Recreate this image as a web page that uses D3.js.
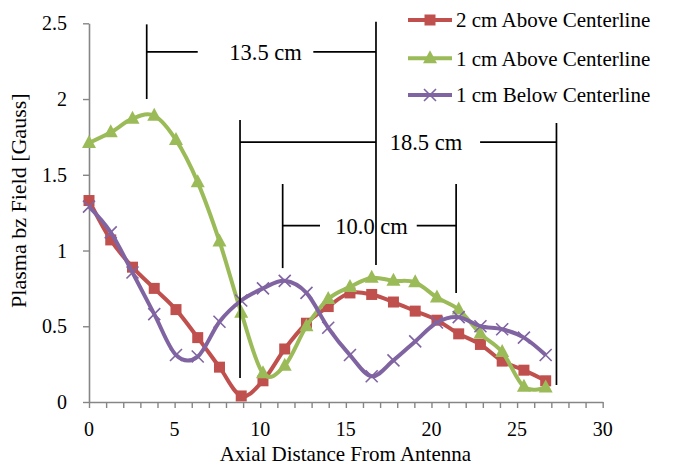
<!DOCTYPE html>
<html>
<head>
<meta charset="utf-8">
<script src="https://cdn.jsdelivr.net/npm/d3@7"></script>
<style>
  html, body { margin: 0; padding: 0; background: #fff; }
  svg { display: block; }
  text { font-family: "Liberation Serif", "Times New Roman", serif; fill: #000; }
</style>
</head>
<body>
<svg id="chart" width="675" height="468"></svg>
<script>
// Probe positions along the axis (cm)
const positions = [0, 1.27, 2.54, 3.81, 5.08, 6.35, 7.62, 8.89, 10.16, 11.43, 12.7,
  13.97, 15.24, 16.51, 17.78, 19.05, 20.32, 21.59, 22.86, 24.13, 25.4, 26.67];

// Measured field (Gauss)
const above2cm = [1.33, 1.07, 0.89, 0.75, 0.61, 0.425, 0.23, 0.04, 0.14, 0.35, 0.52,
  0.63, 0.72, 0.71, 0.66, 0.60, 0.54, 0.45, 0.38, 0.27, 0.21, 0.14];
const above1cm = [1.71, 1.78, 1.87, 1.89, 1.73, 1.45, 1.06, 0.59, 0.19, 0.24, 0.50,
  0.68, 0.76, 0.82, 0.80, 0.79, 0.69, 0.61, 0.45, 0.33, 0.10, 0.095];
const below1cm = [1.29, 1.12, 0.855, 0.58, 0.31, 0.30, 0.53, 0.67, 0.75, 0.80, 0.72,
  0.49, 0.31, 0.17, 0.275, 0.40, 0.525, 0.56, 0.50, 0.48, 0.425, 0.31];

const seriesNames = ["2 cm Above Centerline", "1 cm Above Centerline", "1 cm Below Centerline"];

const xTicks = [0, 5, 10, 15, 20, 25, 30];
const yTicks = [0, 0.5, 1, 1.5, 2, 2.5];

// Spacing brackets: two vertical markers, a horizontal arm split by the label
const bracketLabels = ["13.5 cm", "18.5 cm", "10.0 cm"];
const bracketLeftX = [3.37, 8.82, 11.31];
const bracketRightX = [16.76, 27.3, 21.44];
const bracketArmY = [2.312, 1.716, 1.164];
const bracketLeftSpan = [[2.0, 2.493], [0.158, 1.861], [0.884, 1.439]];
const bracketRightSpan = [[0.904, 2.51], [0.112, 1.842], [0.72, 1.439]];
const bracketArmBreak = [[6.35, 13.10], [16.76, 22.84], [13.49, 19.14]];
const bracketLabelX = [10.31, 19.68, 16.5];

const svg = d3.select("#chart");
const x = d3.scaleLinear().domain([0, 30]).range([89, 602.7]);
const y = d3.scaleLinear().domain([0, 2.5]).range([402, 23.3]);

const colors = ["#C0504D", "#9BBB59", "#8064A2"];
const axisColor = "#868686";

// Axes (lines and tick marks from d3.axis, labels set in serif below)
const yAxis = svg.append("g")
  .attr("transform", `translate(${x(0)},0)`)
  .call(d3.axisLeft(y).tickValues(yTicks).tickSize(6).tickSizeOuter(0).tickFormat(""));
const xAxis = svg.append("g")
  .attr("transform", `translate(0,${y(0)})`)
  .call(d3.axisBottom(x).tickValues(d3.range(0, 31, 1)).tickSize(6).tickSizeOuter(0)
    .tickFormat(""));

[yAxis, xAxis].forEach(g => {
  g.selectAll("path.domain").attr("stroke", axisColor).attr("stroke-width", 1.6);
  g.selectAll(".tick line").attr("stroke", axisColor).attr("stroke-width", 1.4);
  g.selectAll(".tick text").remove();
});

const fmt = d3.format("");
svg.append("g").selectAll("text").data(yTicks).join("text")
  .attr("x", x(0) - 22)
  .attr("y", d => y(d))
  .attr("dy", "0.35em")
  .attr("text-anchor", "end")
  .style("font-size", "20px")
  .text(d => fmt(d));
svg.append("g").selectAll("text").data(xTicks).join("text")
  .attr("x", d => x(d))
  .attr("y", y(0) + 34)
  .attr("text-anchor", "middle")
  .style("font-size", "20px")
  .text(d => fmt(d));

// Axis titles
svg.append("text")
  .attr("x", (x(0) + x(30)) / 2 - 0.5)
  .attr("y", 461)
  .attr("text-anchor", "middle")
  .style("font-size", "21px")
  .text("Axial Distance From Antenna");
svg.append("text")
  .attr("transform", `translate(26,${(y(0) + y(2.5)) / 2 - 12}) rotate(-90)`)
  .attr("text-anchor", "middle")
  .style("font-size", "22px")
  .text("Plasma bz Field [Gauss]");

// Marker shapes
function drawMarker(g, kind, color) {
  if (kind === 0) {
    g.append("rect").attr("x", -5.5).attr("y", -5.5).attr("width", 11).attr("height", 11)
      .attr("fill", color);
  } else if (kind === 1) {
    g.append("path").attr("d", "M0,-8L7,5L-7,5Z").attr("fill", color);
  } else {
    g.append("path").attr("d", "M-6,-6L6,6M-6,6L6,-6")
      .attr("stroke", color).attr("stroke-width", 1.6).attr("fill", "none");
  }
}

const line = d3.line()
  .x(d => x(d[0]))
  .y(d => y(d[1]))
  .curve(d3.curveCardinal.tension(0));

const allSeries = [above2cm, above1cm, below1cm];
allSeries.forEach((vals, i) => {
  const pts = positions.map((p, k) => [p, vals[k]]);
  svg.append("path")
    .attr("d", line(pts))
    .attr("fill", "none")
    .attr("stroke", colors[i])
    .attr("stroke-width", 4)
    .attr("stroke-linejoin", "round");
  const mg = svg.append("g");
  pts.forEach(pt => {
    const g = mg.append("g").attr("transform", `translate(${x(pt[0])},${y(pt[1])})`);
    drawMarker(g, i, colors[i]);
  });
});

// Brackets
bracketLabels.forEach((lab, i) => {
  const g = svg.append("g").attr("stroke", "#000").attr("stroke-width", 1.7);
  g.append("line")
    .attr("x1", x(bracketLeftX[i])).attr("x2", x(bracketLeftX[i]))
    .attr("y1", y(bracketLeftSpan[i][0])).attr("y2", y(bracketLeftSpan[i][1]));
  g.append("line")
    .attr("x1", x(bracketRightX[i])).attr("x2", x(bracketRightX[i]))
    .attr("y1", y(bracketRightSpan[i][0])).attr("y2", y(bracketRightSpan[i][1]));
  g.append("line")
    .attr("x1", x(bracketLeftX[i])).attr("x2", x(bracketArmBreak[i][0]))
    .attr("y1", y(bracketArmY[i])).attr("y2", y(bracketArmY[i]));
  g.append("line")
    .attr("x1", x(bracketArmBreak[i][1])).attr("x2", x(bracketRightX[i]))
    .attr("y1", y(bracketArmY[i])).attr("y2", y(bracketArmY[i]));
  svg.append("text")
    .attr("x", x(bracketLabelX[i]))
    .attr("y", y(bracketArmY[i]))
    .attr("dy", "0.35em")
    .attr("text-anchor", "middle")
    .style("font-size", "22.5px")
    .text(lab);
});

// Legend
const legend = svg.append("g");
const legendY = [20, 58.3, 95];
seriesNames.forEach((name, i) => {
  const row = legend.append("g").attr("transform", `translate(0,${legendY[i]})`);
  row.append("line").attr("x1", 408).attr("x2", 452).attr("y1", 0).attr("y2", 0)
    .attr("stroke", colors[i]).attr("stroke-width", 4);
  const m = row.append("g").attr("transform", "translate(430,0)");
  drawMarker(m, i, colors[i]);
  row.append("text").attr("x", 456).attr("y", 0).attr("dy", "0.35em")
    .style("font-size", "21px").text(name);
});
</script>
</body>
</html>
